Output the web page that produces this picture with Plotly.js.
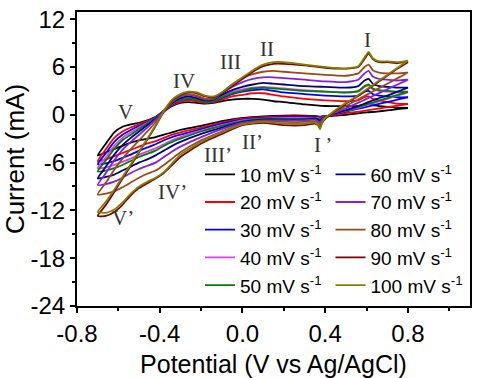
<!DOCTYPE html>
<html>
<head>
<meta charset="utf-8">
<script src="https://cdn.plot.ly/plotly-3.0.1.min.js"></script>
<style>html,body{margin:0;padding:0;background:#fff;}#chart{width:483px;height:378px;}</style>
</head>
<body>
<div id="chart"></div>
<script>
// Potential grids (V vs Ag/AgCl)
const vAnodic = [-0.70,-0.66,-0.62,-0.58,-0.54,-0.50,-0.46,-0.42,-0.38,-0.34,-0.30,-0.26,-0.22,-0.18,-0.14,-0.10,-0.05,0.00,0.05,0.10,0.15,0.20,0.30,0.40,0.50,0.56,0.59,0.61,0.63,0.66,0.70,0.75,0.80];
const vCathodic = [0.80,0.75,0.70,0.65,0.60,0.55,0.50,0.45,0.42,0.40,0.385,0.375,0.365,0.35,0.30,0.20,0.10,0.00,-0.10,-0.20,-0.30,-0.34,-0.38,-0.42,-0.46,-0.50,-0.54,-0.58,-0.62,-0.66,-0.70];

const scanRates = ["10","20","30","40","50","60","70","80","90","100"];

// Current (mA), anodic sweep
const i10a  = [-5.1,-3.6,-2.2,-1.5,-1.2,-1.0,-0.7,-0.3,0.4,1.1,1.5,1.6,1.5,1.4,1.5,1.7,1.9,2.0,2.0,1.9,1.7,1.6,1.3,1.1,1.1,1.1,1.3,1.4,1.2,1.1,1.0,0.9,0.85];
const i20a  = [-5.8,-4.3,-2.9,-2.1,-1.6,-1.2,-0.8,-0.3,0.4,1.2,1.6,1.8,1.7,1.5,1.6,1.9,2.3,2.5,2.7,2.7,2.5,2.3,2.0,1.8,1.7,1.8,2.2,2.3,2.0,1.8,1.6,1.4,1.35];
const i30a  = [-6.2,-4.8,-3.4,-2.5,-1.9,-1.4,-0.9,-0.3,0.5,1.3,1.8,2.0,1.9,1.6,1.7,2.1,2.6,2.9,3.1,3.2,3.0,2.8,2.6,2.4,2.3,2.4,2.9,3.0,2.6,2.4,2.3,2.2,2.2];
const i40a  = [-6.7,-5.3,-3.9,-2.9,-2.2,-1.6,-1.0,-0.4,0.5,1.4,1.9,2.1,2.0,1.7,1.8,2.3,2.9,3.2,3.4,3.5,3.4,3.3,3.1,2.9,2.8,2.9,3.5,3.7,3.2,3.0,2.9,2.8,2.8];
const i50a  = [-7.1,-5.7,-4.3,-3.2,-2.5,-1.8,-1.1,-0.4,0.5,1.4,1.9,2.1,1.9,1.6,1.7,2.2,2.7,3.0,3.3,3.4,3.3,3.2,3.0,2.9,2.8,3.0,3.6,3.8,3.3,3.1,3.0,2.9,2.9];
const i60a  = [-8.0,-6.5,-5.0,-3.8,-2.9,-2.1,-1.3,-0.5,0.5,1.5,2.1,2.3,2.1,1.8,1.9,2.5,3.1,3.5,3.8,4.0,3.9,3.8,3.6,3.5,3.4,3.6,4.3,4.5,3.9,3.6,3.5,3.4,3.4];
const i70a  = [-8.8,-7.3,-5.7,-4.4,-3.4,-2.5,-1.6,-0.6,0.5,1.6,2.3,2.5,2.3,1.9,2.0,2.7,3.5,4.1,4.5,4.7,4.7,4.6,4.4,4.2,4.1,4.4,5.2,5.5,4.8,4.5,4.4,4.3,4.4];
const i80a  = [-10.0,-8.5,-6.9,-5.5,-4.3,-3.2,-2.1,-0.9,0.4,1.7,2.4,2.6,2.4,2.0,2.1,2.8,3.8,4.6,5.1,5.4,5.5,5.4,5.2,5.0,4.9,5.2,6.0,6.3,5.6,5.3,5.2,5.2,5.3];
const i90a  = [-12.7,-11.3,-9.7,-8.0,-6.4,-4.7,-3.1,-1.4,0.4,1.8,2.5,2.8,2.7,2.3,2.2,2.7,3.6,4.5,5.4,6.1,6.4,6.4,6.2,5.9,5.8,6.0,7.0,7.7,7.0,6.6,6.6,6.5,6.6];
const i100a = [-12.2,-10.9,-9.4,-7.8,-6.2,-4.6,-3.0,-1.3,0.5,1.9,2.6,2.9,2.8,2.4,2.3,2.8,3.8,4.7,5.6,6.3,6.6,6.6,6.3,6.0,5.8,6.1,7.2,7.9,7.1,6.7,6.7,6.6,6.8];

// Current (mA), cathodic sweep
const i10c  = [0.85,0.7,0.55,0.4,0.3,0.15,0.0,-0.1,-0.15,-0.15,-0.2,-0.25,-0.2,-0.15,-0.1,-0.1,-0.2,-0.4,-0.8,-1.4,-1.9,-2.2,-2.5,-2.8,-3.0,-3.2,-3.5,-3.9,-4.3,-4.7,-5.1];
const i20c  = [1.35,1.15,0.95,0.75,0.55,0.35,0.2,0.0,-0.1,-0.15,-0.2,-0.3,-0.25,-0.2,-0.2,-0.2,-0.3,-0.5,-1.0,-1.6,-2.2,-2.5,-2.9,-3.3,-3.6,-4.0,-4.4,-4.8,-5.2,-5.6,-5.8];
const i30c  = [2.2,1.9,1.6,1.3,1.0,0.7,0.4,0.1,-0.1,-0.2,-0.3,-0.4,-0.3,-0.3,-0.3,-0.3,-0.4,-0.6,-1.1,-1.8,-2.5,-2.8,-3.2,-3.7,-4.1,-4.5,-5.0,-5.4,-5.8,-6.1,-6.2];
const i40c  = [2.8,2.4,2.0,1.6,1.2,0.8,0.5,0.2,-0.1,-0.2,-0.4,-0.5,-0.4,-0.4,-0.4,-0.4,-0.5,-0.7,-1.3,-2.0,-2.8,-3.2,-3.7,-4.2,-4.6,-5.0,-5.5,-5.9,-6.3,-6.6,-6.7];
const i50c  = [2.9,2.5,2.1,1.7,1.3,0.9,0.5,0.2,-0.1,-0.2,-0.4,-0.6,-0.5,-0.4,-0.5,-0.5,-0.5,-0.8,-1.4,-2.1,-3.0,-3.4,-3.9,-4.5,-4.9,-5.3,-5.8,-6.3,-6.7,-7.0,-7.1];
const i60c  = [3.4,2.9,2.4,2.0,1.5,1.0,0.6,0.2,-0.1,-0.3,-0.5,-0.8,-0.6,-0.5,-0.6,-0.6,-0.6,-0.9,-1.6,-2.4,-3.4,-3.9,-4.5,-5.1,-5.6,-6.0,-6.5,-7.0,-7.5,-7.8,-8.0];
const i70c  = [4.4,3.8,3.2,2.6,2.0,1.4,0.8,0.3,-0.1,-0.3,-0.6,-1.0,-0.8,-0.6,-0.7,-0.7,-0.7,-1.0,-1.8,-2.8,-4.0,-4.6,-5.3,-6.0,-6.4,-6.8,-7.3,-7.9,-8.4,-8.7,-8.8];
const i80c  = [5.3,4.6,3.9,3.2,2.5,1.8,1.1,0.4,-0.1,-0.4,-0.8,-1.3,-1.0,-0.8,-0.9,-0.9,-0.8,-1.1,-2.1,-3.2,-4.7,-5.5,-6.3,-7.0,-7.4,-7.9,-8.5,-9.1,-9.6,-9.9,-10.0];
const i90c  = [6.6,5.8,4.9,4.0,3.1,2.2,1.4,0.5,-0.1,-0.5,-1.0,-1.6,-1.3,-1.1,-1.3,-1.3,-1.0,-1.3,-2.4,-3.6,-5.3,-6.3,-7.3,-8.0,-8.6,-9.2,-10.1,-11.3,-12.2,-12.7,-12.7];
const i100c = [6.8,5.9,5.0,4.1,3.2,2.3,1.5,0.6,0.0,-0.4,-1.0,-1.8,-1.3,-1.0,-1.1,-1.1,-0.9,-1.2,-2.2,-3.4,-5.0,-6.1,-7.2,-7.9,-8.4,-9.0,-9.9,-11.0,-11.9,-12.3,-12.2];

const xTickVals = [-0.8,-0.4,0.0,0.4,0.8];
const xTickText = ["-0.8","-0.4","0.0","0.4","0.8"];
const yTickVals = [-24,-18,-12,-6,0,6,12];
const yTickText = ["-24","-18","-12","-6","0","6","12"];

const peakLabels = ["I","II","III","IV","V","I\u2009\u2019","II\u2019","III\u2019","IV\u2019","V\u2019"];
const peakLabelV = [0.603,0.119,-0.058,-0.284,-0.566,0.39,0.05,-0.12,-0.34,-0.58];
const peakLabelI = [9.4,8.3,6.6,4.3,0.4,-3.8,-3.4,-5.1,-9.7,-13.0];

const anodic = [i10a,i20a,i30a,i40a,i50a,i60a,i70a,i80a,i90a,i100a];
const cathodic = [i10c,i20c,i30c,i40c,i50c,i60c,i70c,i80c,i90c,i100c];
const colors = ["#000000","#ff0000","#0000ff","#e040e0","#008000","#000080","#7f1fef","#9a4a1a","#800000","#808000"];

const traces = scanRates.map((r, k) => ({
  x: vAnodic.concat(vCathodic),
  y: anodic[k].concat(cathodic[k]),
  type: "scatter",
  mode: "lines",
  name: r + " mV s<sup>-1</sup>",
  legendgroup: "g" + r,
  line: {color: colors[k], width: 1.8, shape: "spline", smoothing: 0.5},
  legend: k < 5 ? "legend" : "legend2",
  hoverinfo: "skip"
}));

const font = "Arial, 'Liberation Sans', sans-serif";
const annotations = peakLabels.map((t, k) => ({
  x: peakLabelV[k], y: peakLabelI[k], text: t, showarrow: false,
  font: {family: "'Times New Roman', 'Liberation Serif', serif", size: 21, color: "#333333"}
}));

const legendCommon = {
  font: {family: font, size: 19, color: "#000"},
  bgcolor: "rgba(0,0,0,0)", borderwidth: 0,
  xanchor: "left", yanchor: "top", itemwidth: 30, tracegroupgap: 0,
  traceorder: "grouped"
};

const layout = {
  width: 483, height: 378,
  margin: {l: 77, r: 13, t: 12, b: 72},
  paper_bgcolor: "#fff", plot_bgcolor: "#fff",
  showlegend: true,
  legend: Object.assign({x: 0.313, y: 0.512}, legendCommon),
  legend2: Object.assign({x: 0.645, y: 0.512}, legendCommon),
  annotations: annotations,
  xaxis: {
    range: [-0.8, 1.1], tickmode: "array", tickvals: xTickVals, ticktext: xTickText,
    ticks: "outside", ticklen: 5, tickwidth: 2, tickcolor: "#000",
    minor: {dtick: 0.2, tick0: -0.8, ticks: "outside", ticklen: 3, tickwidth: 2, tickcolor: "#000"},
    showline: true, linewidth: 2, linecolor: "#000", mirror: true,
    showgrid: false, zeroline: false,
    tickfont: {family: font, size: 24, color: "#000"},
    title: {text: "Potential (V vs Ag/AgCl)", font: {family: font, size: 25, color: "#000"}, standoff: 10}
  },
  yaxis: {
    range: [-24, 12.9], tickmode: "array", tickvals: yTickVals, ticktext: yTickText,
    ticks: "outside", ticklen: 5, tickwidth: 2, tickcolor: "#000",
    minor: {dtick: 3, tick0: 0, ticks: "outside", ticklen: 3, tickwidth: 2, tickcolor: "#000"},
    showline: true, linewidth: 2, linecolor: "#000", mirror: true,
    showgrid: false, zeroline: false,
    tickfont: {family: font, size: 24, color: "#000"},
    title: {text: "Current (mA)", font: {family: font, size: 26, color: "#000"}, standoff: 4}
  }
};

Plotly.newPlot("chart", traces, layout, {displayModeBar: false, staticPlot: true});
</script>
</body>
</html>
